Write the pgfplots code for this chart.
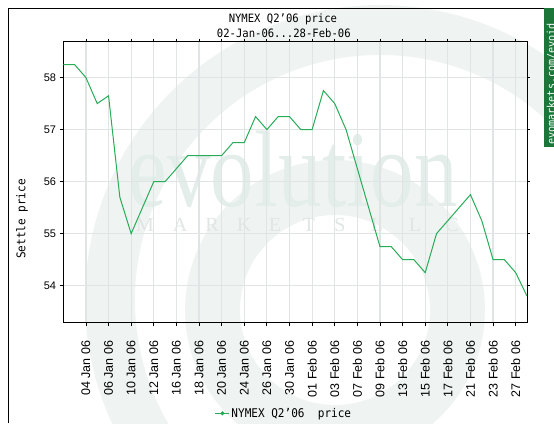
\documentclass[border=0pt]{standalone}
\usepackage{fontspec}
\setmainfont{Liberation Sans}
\newfontfamily\monof[FakeStretch=0.92]{DejaVu Sans Mono}
\newfontfamily\wmserif{Liberation Serif}
\usepackage{graphicx}
\usepackage{pgfplots}
\pgfplotsset{compat=1.18}
\usetikzlibrary{calc}
\pgfdeclarelayer{bg}
\pgfsetlayers{bg,main}
\definecolor{lgreen}{RGB}{40,172,88}
\definecolor{gridc}{RGB}{224,228,228}
\definecolor{wm}{RGB}{239,244,242}
\definecolor{wmtext}{RGB}{227,237,234}
\definecolor{wmletters}{RGB}{224,230,228}
\definecolor{banner}{RGB}{28,118,58}
\begin{document}
\begin{tikzpicture}[x=1pt,y=1pt]
\begin{axis}[
  name=ax,
  width=463.7pt, height=281pt, scale only axis,
  xmin=0, xmax=41, ymin=53.288, ymax=58.69,
  xtick={2,4,...,40},
  xticklabels={04 Jan 06,06 Jan 06,10 Jan 06,12 Jan 06,16 Jan 06,18 Jan 06,20 Jan 06,24 Jan 06,26 Jan 06,30 Jan 06,01 Feb 06,03 Feb 06,07 Feb 06,09 Feb 06,13 Feb 06,15 Feb 06,17 Feb 06,21 Feb 06,23 Feb 06,27 Feb 06},
  ytick={54,55,56,57,58},
  tick align=outside, major tick length=3pt,
  tick style={black, line width=0.8pt},
  grid=major, major grid style={gridc, line width=1.2pt},
  axis line style={black, line width=1pt},
  /pgf/number format/assume math mode=true,
  x tick label style={yshift=-15pt, rotate=90, anchor=east, font=\fontsize{12.5}{12.5}\selectfont, inner sep=0pt},
  y tick label style={font=\fontsize{11}{11}\selectfont, inner sep=0pt, xshift=-4pt},
  legend style={at={(0.4755,-0.3224)}, anchor=center, draw=none, fill=none, inner sep=0pt,
    font=\monof\fontsize{12}{12}\selectfont, nodes={inner sep=1.5pt}},
  legend image code/.code={\draw[#1] (0pt,0pt) -- (14pt,0pt); \fill[#1] (7pt,0pt) circle (1.5pt);},
]
\addplot[lgreen, line width=1pt] coordinates {
(0,58.25) (1,58.25) (2,58.0) (3,57.5) (4,57.65) (5,55.7) (6,55.0) (7,55.5)
(8,56.0) (9,56.0) (10,56.25) (11,56.5) (12,56.5) (13,56.5) (14,56.5) (15,56.75)
(16,56.75) (17,57.25) (18,57.0) (19,57.25) (20,57.25) (21,57.0) (22,57.0) (23,57.75)
(24,57.5) (25,57.0) (26,56.25) (27,55.5) (28,54.75) (29,54.75) (30,54.5) (31,54.5)
(32,54.25) (33,55.0) (34,55.25) (35,55.5) (36,55.75) (37,55.25) (38,54.5) (39,54.5)
(40,54.25) (41,53.8)
};
\addlegendentry{NYMEX Q2’06~\ price}
\end{axis}
\pgfresetboundingbox
\path[use as bounding box] ($(ax.south west)+(-63.3,-100.3)$) rectangle +(554,423);
\begin{scope}[shift={($(ax.south west)+(-63.3,-100.3)$)}]
\begin{pgfonlayer}{bg}
\begin{scope}
\clip (0,0) rectangle (554,423);
\fill[wm, even odd rule] (380,123) circle (295) (380,123) circle (245);
\fill[wm, even odd rule] (335,113) circle (150) (335,113) circle (95);
\node[wmtext, anchor=base, inner sep=0pt] at (293,216) {\scalebox{0.8}[1]{\wmserif\fontsize{109}{109}\selectfont evolution}};
\foreach \lx/\lt in {145/M,180/A,212/R,244/K,275/E,309/T,340/S,377/L,415/L,452/C}
  \node[wmletters, inner sep=0pt, font=\wmserif\fontsize{20}{20}\selectfont] at (\lx,198) {\lt};
\end{scope}
\end{pgfonlayer}
% outer frame
\draw[black, line width=1pt] (8.3,0) -- (8.3,414.7) -- (543.5,414.7);
% banner
\fill[banner] (544.3,276.3) rectangle (554,414.7);
\begin{scope}
\clip (544.3,276.3) rectangle (554,414.7);
\node[rotate=90, anchor=west, white, inner sep=0pt, font=\monof\fontsize{11}{11}\selectfont] at (551.5,278) {evomarkets.com/evoid};
\end{scope}
% titles
\node[font=\monof\fontsize{11.5}{11.5}\selectfont, inner sep=0pt] at (282.9,403.5) {NYMEX Q2’06 price};
\node[font=\monof\fontsize{11.5}{11.5}\selectfont, inner sep=0pt] at (283.8,389.3) {02-Jan-06...28-Feb-06};
\node[rotate=90, font=\monof\fontsize{12}{12}\selectfont, inner sep=0pt] at (22,204) {Settle price};
\end{scope}
\end{tikzpicture}
\end{document}
